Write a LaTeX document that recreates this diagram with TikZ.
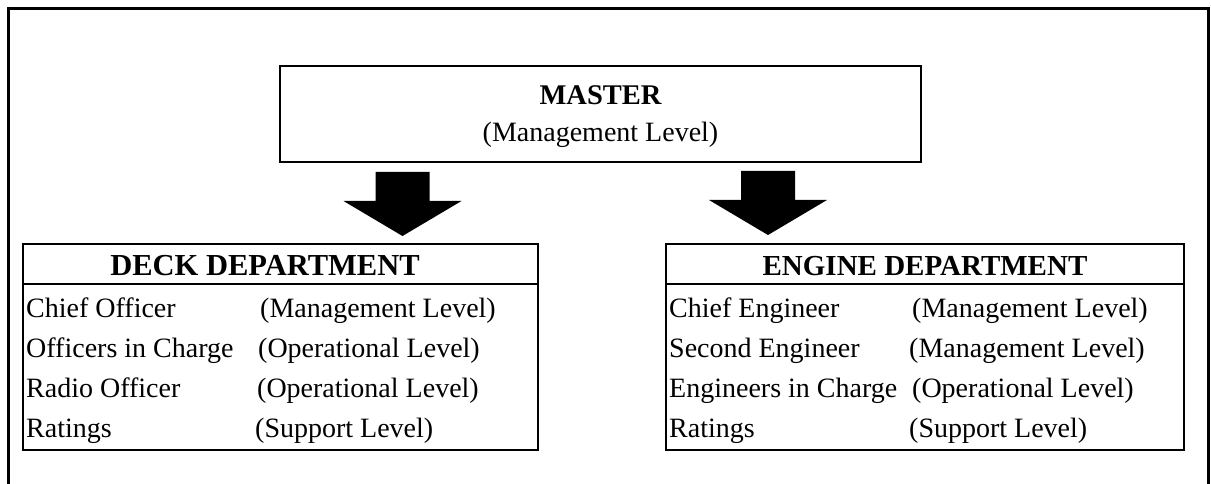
\documentclass[tikz,border=0pt]{standalone}
\usepackage{fontspec}
\setmainfont{Liberation Serif}
\begin{document}
\begin{tikzpicture}[x=1pt,y=-1pt,
  box/.style={draw, line width=2pt, inner sep=0pt},
  rowtext/.style={font=\fontsize{28}{34}\selectfont, inner sep=0pt, anchor=base west},
  titletext/.style={font=\fontsize{28.5}{34}\selectfont\bfseries, inner sep=0pt, anchor=base},
  blockarrow/.style={fill=black},
  downarrow/.pic={
    \fill[blockarrow] (-27,0) -- (-27,29) -- (-59,29) -- (0,64) -- (59,29) -- (27,29) -- (27,0) -- cycle;
  }]
\useasboundingbox (0,0) rectangle (1211,484);

% outer frame (open at the bottom edge of the page)
\draw[line width=3pt] (8,484) -- (8,9) -- (1208,9) -- (1208,484);

% master
\node[box, minimum width=641pt, minimum height=96pt] (master) at (600.5,114) {};
\node[titletext] (mastertitle) at (master.center |- 0,105) {MASTER};
\node[rowtext, anchor=base] (masterlevel) at (master.center |- 0,142) {(Management Level)};

% departments
\node[box, minimum width=515pt, minimum height=206pt] (deck) at (280.5,347) {};
\node[box, minimum width=518pt, minimum height=206pt] (engine) at (925,347) {};
\draw[line width=2pt] ([yshift=-41pt]deck.north west) -- ([yshift=-41pt]deck.north east);
\draw[line width=2pt] ([yshift=-41pt]engine.north west) -- ([yshift=-41pt]engine.north east);
\node[titletext, font=\fontsize{30.5}{36}\selectfont\bfseries] (decktitle) at (265,275) {DECK DEPARTMENT};
\node[titletext, font=\fontsize{29}{34}\selectfont\bfseries] (enginetitle) at (engine.center |- 0,275) {ENGINE DEPARTMENT};

% deck rows
\node[rowtext] (d1a) at (26,317) {Chief Officer};
\node[rowtext] (d1b) at (260,317) {(Management Level)};
\node[rowtext] (d2a) at (26,357) {Officers in Charge};
\node[rowtext] (d2b) at (258,357) {(Operational Level)};
\node[rowtext] (d3a) at (26,397) {Radio Officer};
\node[rowtext] (d3b) at (257,397) {(Operational Level)};
\node[rowtext] (d4a) at (26,437) {Ratings};
\node[rowtext] (d4b) at (255,437) {(Support Level)};

% engine rows
\node[rowtext] (e1a) at (669,317) {Chief Engineer};
\node[rowtext] (e1b) at (912,317) {(Management Level)};
\node[rowtext] (e2a) at (669,357) {Second Engineer};
\node[rowtext] (e2b) at (909,357) {(Management Level)};
\node[rowtext] (e3a) at (669,397) {Engineers in Charge};
\node[rowtext] (e3b) at (912,397) {(Operational Level)};
\node[rowtext] (e4a) at (669,437) {Ratings};
\node[rowtext] (e4b) at (909,437) {(Support Level)};

% block arrows from master down to each department
\coordinate (deckarrow) at (402.5,172);
\coordinate (enginearrow) at (768,171);
\pic at (deckarrow) {downarrow};
\pic at (enginearrow) {downarrow};
\end{tikzpicture}
\end{document}
